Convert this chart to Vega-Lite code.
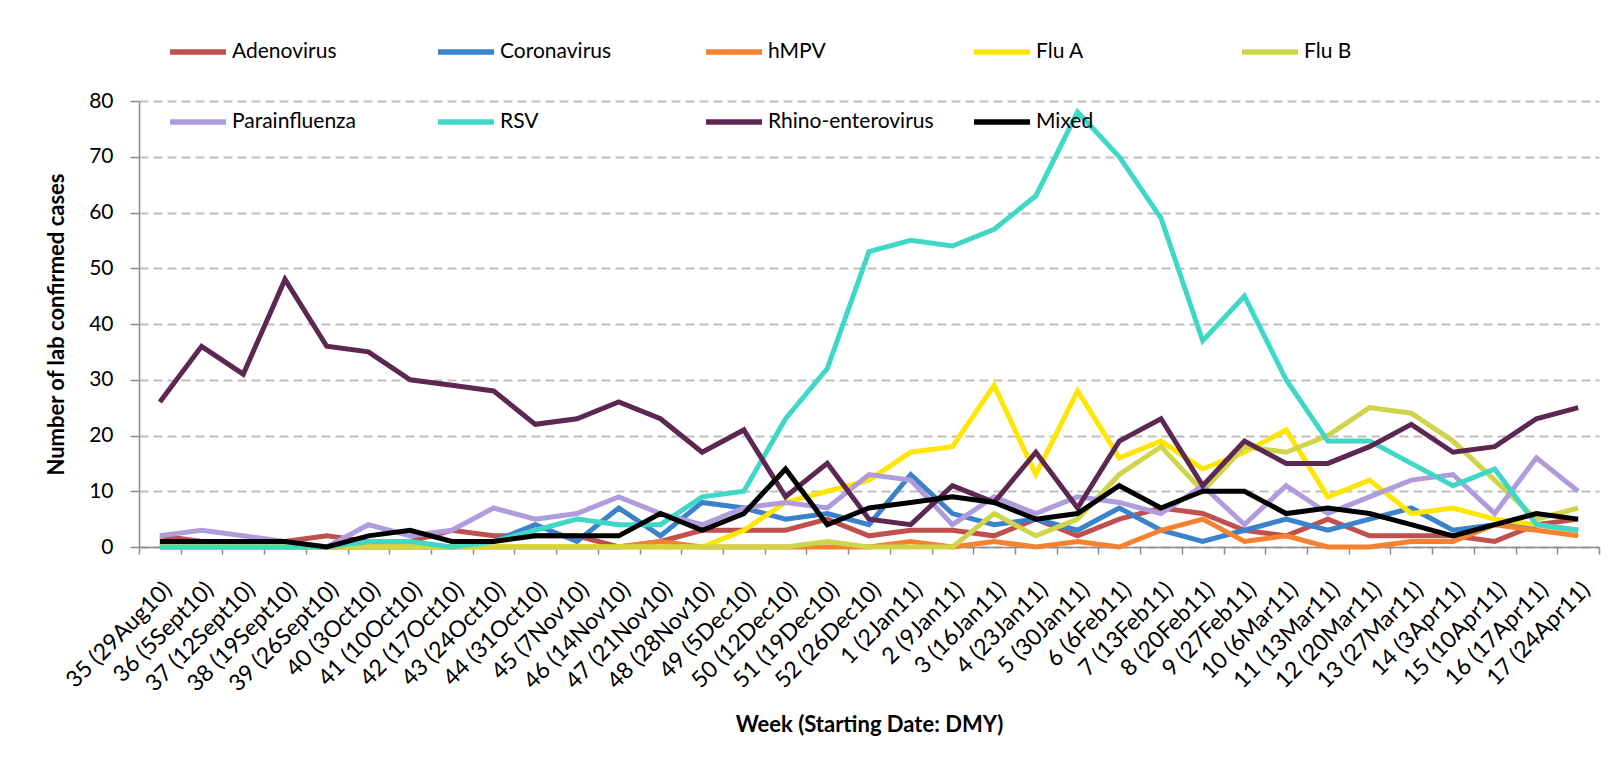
{
  "$schema": "https://vega.github.io/schema/vega-lite/v6.json",
  "width": 1460,
  "height": 446,
  "autosize": {"type": "none"},
  "padding": {"left": 139, "top": 101, "right": 13, "bottom": 221},
  "background": "white",
  "config": {
    "font": "Lato",
    "view": {"stroke": null},
    "axis": {"labelColor": "#000000", "titleColor": "#000000", "domainColor": "#8C8C8C", "tickColor": "#8C8C8C", "domainWidth": 1.5, "tickWidth": 1.5}
  },
  "data": {"values": [
{"week":"35 (29Aug10)","virus":"Adenovirus","cases":2},{"week":"36 (5Sept10)","virus":"Adenovirus","cases":1},{"week":"37 (12Sept10)","virus":"Adenovirus","cases":1},{"week":"38 (19Sept10)","virus":"Adenovirus","cases":1},{"week":"39 (26Sept10)","virus":"Adenovirus","cases":2},{"week":"40 (3Oct10)","virus":"Adenovirus","cases":1},{"week":"41 (10Oct10)","virus":"Adenovirus","cases":1},{"week":"42 (17Oct10)","virus":"Adenovirus","cases":3},{"week":"43 (24Oct10)","virus":"Adenovirus","cases":2},{"week":"44 (31Oct10)","virus":"Adenovirus","cases":2},{"week":"45 (7Nov10)","virus":"Adenovirus","cases":2},{"week":"46 (14Nov10)","virus":"Adenovirus","cases":0},{"week":"47 (21Nov10)","virus":"Adenovirus","cases":1},{"week":"48 (28Nov10)","virus":"Adenovirus","cases":3},{"week":"49 (5Dec10)","virus":"Adenovirus","cases":3},{"week":"50 (12Dec10)","virus":"Adenovirus","cases":3},{"week":"51 (19Dec10)","virus":"Adenovirus","cases":5},{"week":"52 (26Dec10)","virus":"Adenovirus","cases":2},{"week":"1 (2Jan11)","virus":"Adenovirus","cases":3},{"week":"2 (9Jan11)","virus":"Adenovirus","cases":3},{"week":"3 (16Jan11)","virus":"Adenovirus","cases":2},{"week":"4 (23Jan11)","virus":"Adenovirus","cases":5},{"week":"5 (30Jan11)","virus":"Adenovirus","cases":2},{"week":"6 (6Feb11)","virus":"Adenovirus","cases":5},{"week":"7 (13Feb11)","virus":"Adenovirus","cases":7},{"week":"8 (20Feb11)","virus":"Adenovirus","cases":6},{"week":"9 (27Feb11)","virus":"Adenovirus","cases":3},{"week":"10 (6Mar11)","virus":"Adenovirus","cases":2},{"week":"11 (13Mar11)","virus":"Adenovirus","cases":5},{"week":"12 (20Mar11)","virus":"Adenovirus","cases":2},{"week":"13 (27Mar11)","virus":"Adenovirus","cases":2},{"week":"14 (3Apr11)","virus":"Adenovirus","cases":2},{"week":"15 (10Apr11)","virus":"Adenovirus","cases":1},{"week":"16 (17Apr11)","virus":"Adenovirus","cases":4},{"week":"17 (24Apr11)","virus":"Adenovirus","cases":5},
{"week":"35 (29Aug10)","virus":"Coronavirus","cases":0},{"week":"36 (5Sept10)","virus":"Coronavirus","cases":0},{"week":"37 (12Sept10)","virus":"Coronavirus","cases":0},{"week":"38 (19Sept10)","virus":"Coronavirus","cases":0},{"week":"39 (26Sept10)","virus":"Coronavirus","cases":0},{"week":"40 (3Oct10)","virus":"Coronavirus","cases":0},{"week":"41 (10Oct10)","virus":"Coronavirus","cases":0},{"week":"42 (17Oct10)","virus":"Coronavirus","cases":0},{"week":"43 (24Oct10)","virus":"Coronavirus","cases":1},{"week":"44 (31Oct10)","virus":"Coronavirus","cases":4},{"week":"45 (7Nov10)","virus":"Coronavirus","cases":1},{"week":"46 (14Nov10)","virus":"Coronavirus","cases":7},{"week":"47 (21Nov10)","virus":"Coronavirus","cases":2},{"week":"48 (28Nov10)","virus":"Coronavirus","cases":8},{"week":"49 (5Dec10)","virus":"Coronavirus","cases":7},{"week":"50 (12Dec10)","virus":"Coronavirus","cases":5},{"week":"51 (19Dec10)","virus":"Coronavirus","cases":6},{"week":"52 (26Dec10)","virus":"Coronavirus","cases":4},{"week":"1 (2Jan11)","virus":"Coronavirus","cases":13},{"week":"2 (9Jan11)","virus":"Coronavirus","cases":6},{"week":"3 (16Jan11)","virus":"Coronavirus","cases":4},{"week":"4 (23Jan11)","virus":"Coronavirus","cases":5},{"week":"5 (30Jan11)","virus":"Coronavirus","cases":3},{"week":"6 (6Feb11)","virus":"Coronavirus","cases":7},{"week":"7 (13Feb11)","virus":"Coronavirus","cases":3},{"week":"8 (20Feb11)","virus":"Coronavirus","cases":1},{"week":"9 (27Feb11)","virus":"Coronavirus","cases":3},{"week":"10 (6Mar11)","virus":"Coronavirus","cases":5},{"week":"11 (13Mar11)","virus":"Coronavirus","cases":3},{"week":"12 (20Mar11)","virus":"Coronavirus","cases":5},{"week":"13 (27Mar11)","virus":"Coronavirus","cases":7},{"week":"14 (3Apr11)","virus":"Coronavirus","cases":3},{"week":"15 (10Apr11)","virus":"Coronavirus","cases":4},{"week":"16 (17Apr11)","virus":"Coronavirus","cases":4},{"week":"17 (24Apr11)","virus":"Coronavirus","cases":3},
{"week":"35 (29Aug10)","virus":"hMPV","cases":0},{"week":"36 (5Sept10)","virus":"hMPV","cases":0},{"week":"37 (12Sept10)","virus":"hMPV","cases":0},{"week":"38 (19Sept10)","virus":"hMPV","cases":0},{"week":"39 (26Sept10)","virus":"hMPV","cases":0},{"week":"40 (3Oct10)","virus":"hMPV","cases":0},{"week":"41 (10Oct10)","virus":"hMPV","cases":0},{"week":"42 (17Oct10)","virus":"hMPV","cases":0},{"week":"43 (24Oct10)","virus":"hMPV","cases":0},{"week":"44 (31Oct10)","virus":"hMPV","cases":0},{"week":"45 (7Nov10)","virus":"hMPV","cases":0},{"week":"46 (14Nov10)","virus":"hMPV","cases":0},{"week":"47 (21Nov10)","virus":"hMPV","cases":1},{"week":"48 (28Nov10)","virus":"hMPV","cases":0},{"week":"49 (5Dec10)","virus":"hMPV","cases":0},{"week":"50 (12Dec10)","virus":"hMPV","cases":0},{"week":"51 (19Dec10)","virus":"hMPV","cases":0},{"week":"52 (26Dec10)","virus":"hMPV","cases":0},{"week":"1 (2Jan11)","virus":"hMPV","cases":1},{"week":"2 (9Jan11)","virus":"hMPV","cases":0},{"week":"3 (16Jan11)","virus":"hMPV","cases":1},{"week":"4 (23Jan11)","virus":"hMPV","cases":0},{"week":"5 (30Jan11)","virus":"hMPV","cases":1},{"week":"6 (6Feb11)","virus":"hMPV","cases":0},{"week":"7 (13Feb11)","virus":"hMPV","cases":3},{"week":"8 (20Feb11)","virus":"hMPV","cases":5},{"week":"9 (27Feb11)","virus":"hMPV","cases":1},{"week":"10 (6Mar11)","virus":"hMPV","cases":2},{"week":"11 (13Mar11)","virus":"hMPV","cases":0},{"week":"12 (20Mar11)","virus":"hMPV","cases":0},{"week":"13 (27Mar11)","virus":"hMPV","cases":1},{"week":"14 (3Apr11)","virus":"hMPV","cases":1},{"week":"15 (10Apr11)","virus":"hMPV","cases":4},{"week":"16 (17Apr11)","virus":"hMPV","cases":3},{"week":"17 (24Apr11)","virus":"hMPV","cases":2},
{"week":"35 (29Aug10)","virus":"Flu A","cases":0},{"week":"36 (5Sept10)","virus":"Flu A","cases":0},{"week":"37 (12Sept10)","virus":"Flu A","cases":0},{"week":"38 (19Sept10)","virus":"Flu A","cases":0},{"week":"39 (26Sept10)","virus":"Flu A","cases":0},{"week":"40 (3Oct10)","virus":"Flu A","cases":0},{"week":"41 (10Oct10)","virus":"Flu A","cases":0},{"week":"42 (17Oct10)","virus":"Flu A","cases":0},{"week":"43 (24Oct10)","virus":"Flu A","cases":0},{"week":"44 (31Oct10)","virus":"Flu A","cases":0},{"week":"45 (7Nov10)","virus":"Flu A","cases":0},{"week":"46 (14Nov10)","virus":"Flu A","cases":0},{"week":"47 (21Nov10)","virus":"Flu A","cases":0},{"week":"48 (28Nov10)","virus":"Flu A","cases":0},{"week":"49 (5Dec10)","virus":"Flu A","cases":3},{"week":"50 (12Dec10)","virus":"Flu A","cases":8},{"week":"51 (19Dec10)","virus":"Flu A","cases":10},{"week":"52 (26Dec10)","virus":"Flu A","cases":12},{"week":"1 (2Jan11)","virus":"Flu A","cases":17},{"week":"2 (9Jan11)","virus":"Flu A","cases":18},{"week":"3 (16Jan11)","virus":"Flu A","cases":29},{"week":"4 (23Jan11)","virus":"Flu A","cases":13},{"week":"5 (30Jan11)","virus":"Flu A","cases":28},{"week":"6 (6Feb11)","virus":"Flu A","cases":16},{"week":"7 (13Feb11)","virus":"Flu A","cases":19},{"week":"8 (20Feb11)","virus":"Flu A","cases":14},{"week":"9 (27Feb11)","virus":"Flu A","cases":17},{"week":"10 (6Mar11)","virus":"Flu A","cases":21},{"week":"11 (13Mar11)","virus":"Flu A","cases":9},{"week":"12 (20Mar11)","virus":"Flu A","cases":12},{"week":"13 (27Mar11)","virus":"Flu A","cases":6},{"week":"14 (3Apr11)","virus":"Flu A","cases":7},{"week":"15 (10Apr11)","virus":"Flu A","cases":5},{"week":"16 (17Apr11)","virus":"Flu A","cases":4},{"week":"17 (24Apr11)","virus":"Flu A","cases":3},
{"week":"35 (29Aug10)","virus":"Flu B","cases":0},{"week":"36 (5Sept10)","virus":"Flu B","cases":0},{"week":"37 (12Sept10)","virus":"Flu B","cases":0},{"week":"38 (19Sept10)","virus":"Flu B","cases":0},{"week":"39 (26Sept10)","virus":"Flu B","cases":0},{"week":"40 (3Oct10)","virus":"Flu B","cases":0},{"week":"41 (10Oct10)","virus":"Flu B","cases":0},{"week":"42 (17Oct10)","virus":"Flu B","cases":0},{"week":"43 (24Oct10)","virus":"Flu B","cases":0},{"week":"44 (31Oct10)","virus":"Flu B","cases":0},{"week":"45 (7Nov10)","virus":"Flu B","cases":0},{"week":"46 (14Nov10)","virus":"Flu B","cases":0},{"week":"47 (21Nov10)","virus":"Flu B","cases":0},{"week":"48 (28Nov10)","virus":"Flu B","cases":0},{"week":"49 (5Dec10)","virus":"Flu B","cases":0},{"week":"50 (12Dec10)","virus":"Flu B","cases":0},{"week":"51 (19Dec10)","virus":"Flu B","cases":1},{"week":"52 (26Dec10)","virus":"Flu B","cases":0},{"week":"1 (2Jan11)","virus":"Flu B","cases":0},{"week":"2 (9Jan11)","virus":"Flu B","cases":0},{"week":"3 (16Jan11)","virus":"Flu B","cases":6},{"week":"4 (23Jan11)","virus":"Flu B","cases":2},{"week":"5 (30Jan11)","virus":"Flu B","cases":5},{"week":"6 (6Feb11)","virus":"Flu B","cases":13},{"week":"7 (13Feb11)","virus":"Flu B","cases":18},{"week":"8 (20Feb11)","virus":"Flu B","cases":10},{"week":"9 (27Feb11)","virus":"Flu B","cases":18},{"week":"10 (6Mar11)","virus":"Flu B","cases":17},{"week":"11 (13Mar11)","virus":"Flu B","cases":20},{"week":"12 (20Mar11)","virus":"Flu B","cases":25},{"week":"13 (27Mar11)","virus":"Flu B","cases":24},{"week":"14 (3Apr11)","virus":"Flu B","cases":19},{"week":"15 (10Apr11)","virus":"Flu B","cases":12},{"week":"16 (17Apr11)","virus":"Flu B","cases":5},{"week":"17 (24Apr11)","virus":"Flu B","cases":7},
{"week":"35 (29Aug10)","virus":"Parainfluenza","cases":2},{"week":"36 (5Sept10)","virus":"Parainfluenza","cases":3},{"week":"37 (12Sept10)","virus":"Parainfluenza","cases":2},{"week":"38 (19Sept10)","virus":"Parainfluenza","cases":1},{"week":"39 (26Sept10)","virus":"Parainfluenza","cases":0},{"week":"40 (3Oct10)","virus":"Parainfluenza","cases":4},{"week":"41 (10Oct10)","virus":"Parainfluenza","cases":2},{"week":"42 (17Oct10)","virus":"Parainfluenza","cases":3},{"week":"43 (24Oct10)","virus":"Parainfluenza","cases":7},{"week":"44 (31Oct10)","virus":"Parainfluenza","cases":5},{"week":"45 (7Nov10)","virus":"Parainfluenza","cases":6},{"week":"46 (14Nov10)","virus":"Parainfluenza","cases":9},{"week":"47 (21Nov10)","virus":"Parainfluenza","cases":6},{"week":"48 (28Nov10)","virus":"Parainfluenza","cases":4},{"week":"49 (5Dec10)","virus":"Parainfluenza","cases":7},{"week":"50 (12Dec10)","virus":"Parainfluenza","cases":8},{"week":"51 (19Dec10)","virus":"Parainfluenza","cases":7},{"week":"52 (26Dec10)","virus":"Parainfluenza","cases":13},{"week":"1 (2Jan11)","virus":"Parainfluenza","cases":12},{"week":"2 (9Jan11)","virus":"Parainfluenza","cases":4},{"week":"3 (16Jan11)","virus":"Parainfluenza","cases":9},{"week":"4 (23Jan11)","virus":"Parainfluenza","cases":6},{"week":"5 (30Jan11)","virus":"Parainfluenza","cases":9},{"week":"6 (6Feb11)","virus":"Parainfluenza","cases":8},{"week":"7 (13Feb11)","virus":"Parainfluenza","cases":6},{"week":"8 (20Feb11)","virus":"Parainfluenza","cases":11},{"week":"9 (27Feb11)","virus":"Parainfluenza","cases":4},{"week":"10 (6Mar11)","virus":"Parainfluenza","cases":11},{"week":"11 (13Mar11)","virus":"Parainfluenza","cases":6},{"week":"12 (20Mar11)","virus":"Parainfluenza","cases":9},{"week":"13 (27Mar11)","virus":"Parainfluenza","cases":12},{"week":"14 (3Apr11)","virus":"Parainfluenza","cases":13},{"week":"15 (10Apr11)","virus":"Parainfluenza","cases":6},{"week":"16 (17Apr11)","virus":"Parainfluenza","cases":16},{"week":"17 (24Apr11)","virus":"Parainfluenza","cases":10},
{"week":"35 (29Aug10)","virus":"RSV","cases":0},{"week":"36 (5Sept10)","virus":"RSV","cases":0},{"week":"37 (12Sept10)","virus":"RSV","cases":0},{"week":"38 (19Sept10)","virus":"RSV","cases":0},{"week":"39 (26Sept10)","virus":"RSV","cases":0},{"week":"40 (3Oct10)","virus":"RSV","cases":1},{"week":"41 (10Oct10)","virus":"RSV","cases":1},{"week":"42 (17Oct10)","virus":"RSV","cases":0},{"week":"43 (24Oct10)","virus":"RSV","cases":1},{"week":"44 (31Oct10)","virus":"RSV","cases":3},{"week":"45 (7Nov10)","virus":"RSV","cases":5},{"week":"46 (14Nov10)","virus":"RSV","cases":4},{"week":"47 (21Nov10)","virus":"RSV","cases":4},{"week":"48 (28Nov10)","virus":"RSV","cases":9},{"week":"49 (5Dec10)","virus":"RSV","cases":10},{"week":"50 (12Dec10)","virus":"RSV","cases":23},{"week":"51 (19Dec10)","virus":"RSV","cases":32},{"week":"52 (26Dec10)","virus":"RSV","cases":53},{"week":"1 (2Jan11)","virus":"RSV","cases":55},{"week":"2 (9Jan11)","virus":"RSV","cases":54},{"week":"3 (16Jan11)","virus":"RSV","cases":57},{"week":"4 (23Jan11)","virus":"RSV","cases":63},{"week":"5 (30Jan11)","virus":"RSV","cases":78},{"week":"6 (6Feb11)","virus":"RSV","cases":70},{"week":"7 (13Feb11)","virus":"RSV","cases":59},{"week":"8 (20Feb11)","virus":"RSV","cases":37},{"week":"9 (27Feb11)","virus":"RSV","cases":45},{"week":"10 (6Mar11)","virus":"RSV","cases":30},{"week":"11 (13Mar11)","virus":"RSV","cases":19},{"week":"12 (20Mar11)","virus":"RSV","cases":19},{"week":"13 (27Mar11)","virus":"RSV","cases":15},{"week":"14 (3Apr11)","virus":"RSV","cases":11},{"week":"15 (10Apr11)","virus":"RSV","cases":14},{"week":"16 (17Apr11)","virus":"RSV","cases":4},{"week":"17 (24Apr11)","virus":"RSV","cases":3},
{"week":"35 (29Aug10)","virus":"Rhino-enterovirus","cases":26},{"week":"36 (5Sept10)","virus":"Rhino-enterovirus","cases":36},{"week":"37 (12Sept10)","virus":"Rhino-enterovirus","cases":31},{"week":"38 (19Sept10)","virus":"Rhino-enterovirus","cases":48},{"week":"39 (26Sept10)","virus":"Rhino-enterovirus","cases":36},{"week":"40 (3Oct10)","virus":"Rhino-enterovirus","cases":35},{"week":"41 (10Oct10)","virus":"Rhino-enterovirus","cases":30},{"week":"42 (17Oct10)","virus":"Rhino-enterovirus","cases":29},{"week":"43 (24Oct10)","virus":"Rhino-enterovirus","cases":28},{"week":"44 (31Oct10)","virus":"Rhino-enterovirus","cases":22},{"week":"45 (7Nov10)","virus":"Rhino-enterovirus","cases":23},{"week":"46 (14Nov10)","virus":"Rhino-enterovirus","cases":26},{"week":"47 (21Nov10)","virus":"Rhino-enterovirus","cases":23},{"week":"48 (28Nov10)","virus":"Rhino-enterovirus","cases":17},{"week":"49 (5Dec10)","virus":"Rhino-enterovirus","cases":21},{"week":"50 (12Dec10)","virus":"Rhino-enterovirus","cases":9},{"week":"51 (19Dec10)","virus":"Rhino-enterovirus","cases":15},{"week":"52 (26Dec10)","virus":"Rhino-enterovirus","cases":5},{"week":"1 (2Jan11)","virus":"Rhino-enterovirus","cases":4},{"week":"2 (9Jan11)","virus":"Rhino-enterovirus","cases":11},{"week":"3 (16Jan11)","virus":"Rhino-enterovirus","cases":8},{"week":"4 (23Jan11)","virus":"Rhino-enterovirus","cases":17},{"week":"5 (30Jan11)","virus":"Rhino-enterovirus","cases":7},{"week":"6 (6Feb11)","virus":"Rhino-enterovirus","cases":19},{"week":"7 (13Feb11)","virus":"Rhino-enterovirus","cases":23},{"week":"8 (20Feb11)","virus":"Rhino-enterovirus","cases":11},{"week":"9 (27Feb11)","virus":"Rhino-enterovirus","cases":19},{"week":"10 (6Mar11)","virus":"Rhino-enterovirus","cases":15},{"week":"11 (13Mar11)","virus":"Rhino-enterovirus","cases":15},{"week":"12 (20Mar11)","virus":"Rhino-enterovirus","cases":18},{"week":"13 (27Mar11)","virus":"Rhino-enterovirus","cases":22},{"week":"14 (3Apr11)","virus":"Rhino-enterovirus","cases":17},{"week":"15 (10Apr11)","virus":"Rhino-enterovirus","cases":18},{"week":"16 (17Apr11)","virus":"Rhino-enterovirus","cases":23},{"week":"17 (24Apr11)","virus":"Rhino-enterovirus","cases":25},
{"week":"35 (29Aug10)","virus":"Mixed","cases":1},{"week":"36 (5Sept10)","virus":"Mixed","cases":1},{"week":"37 (12Sept10)","virus":"Mixed","cases":1},{"week":"38 (19Sept10)","virus":"Mixed","cases":1},{"week":"39 (26Sept10)","virus":"Mixed","cases":0},{"week":"40 (3Oct10)","virus":"Mixed","cases":2},{"week":"41 (10Oct10)","virus":"Mixed","cases":3},{"week":"42 (17Oct10)","virus":"Mixed","cases":1},{"week":"43 (24Oct10)","virus":"Mixed","cases":1},{"week":"44 (31Oct10)","virus":"Mixed","cases":2},{"week":"45 (7Nov10)","virus":"Mixed","cases":2},{"week":"46 (14Nov10)","virus":"Mixed","cases":2},{"week":"47 (21Nov10)","virus":"Mixed","cases":6},{"week":"48 (28Nov10)","virus":"Mixed","cases":3},{"week":"49 (5Dec10)","virus":"Mixed","cases":6},{"week":"50 (12Dec10)","virus":"Mixed","cases":14},{"week":"51 (19Dec10)","virus":"Mixed","cases":4},{"week":"52 (26Dec10)","virus":"Mixed","cases":7},{"week":"1 (2Jan11)","virus":"Mixed","cases":8},{"week":"2 (9Jan11)","virus":"Mixed","cases":9},{"week":"3 (16Jan11)","virus":"Mixed","cases":8},{"week":"4 (23Jan11)","virus":"Mixed","cases":5},{"week":"5 (30Jan11)","virus":"Mixed","cases":6},{"week":"6 (6Feb11)","virus":"Mixed","cases":11},{"week":"7 (13Feb11)","virus":"Mixed","cases":7},{"week":"8 (20Feb11)","virus":"Mixed","cases":10},{"week":"9 (27Feb11)","virus":"Mixed","cases":10},{"week":"10 (6Mar11)","virus":"Mixed","cases":6},{"week":"11 (13Mar11)","virus":"Mixed","cases":7},{"week":"12 (20Mar11)","virus":"Mixed","cases":6},{"week":"13 (27Mar11)","virus":"Mixed","cases":4},{"week":"14 (3Apr11)","virus":"Mixed","cases":2},{"week":"15 (10Apr11)","virus":"Mixed","cases":4},{"week":"16 (17Apr11)","virus":"Mixed","cases":6},{"week":"17 (24Apr11)","virus":"Mixed","cases":5}
  ]},
  "mark": {"type": "line", "strokeWidth": 5, "strokeJoin": "miter", "strokeCap": "butt"},
  "encoding": {
    "x": {
      "field": "week", "type": "nominal", "sort": null, "bandPosition": 0.5,
      "scale": {"type": "band", "paddingInner": 0, "paddingOuter": 0},
      "axis": {
        "title": "Week (Starting Date: DMY)", "titleFontSize": 22, "titleFontWeight": "bold", "titlePadding": 19,
        "labelAngle": -45, "labelFontSize": 23, "labelPadding": 24, "labelLimit": 300,
        "tickBand": "extent", "tickSize": 7, "grid": false
      }
    },
    "y": {
      "field": "cases", "type": "quantitative",
      "scale": {"domain": [0, 80], "nice": false},
      "axis": {
        "title": "Number of lab confirmed cases", "titleFontSize": 22, "titleFontWeight": "bold", "titlePadding": 20,
        "values": [0, 10, 20, 30, 40, 50, 60, 70, 80], "labelFontSize": 21, "labelPadding": 17, "tickSize": 9,
        "grid": true, "gridColor": "#BEBEBE", "gridDash": [9, 5], "gridWidth": 2
      }
    },
    "color": {
      "field": "virus", "type": "nominal", "sort": null,
      "scale": {
        "domain": ["Adenovirus", "Coronavirus", "hMPV", "Flu A", "Flu B", "Parainfluenza", "RSV", "Rhino-enterovirus", "Mixed"],
        "range": ["#C0504D", "#3A82CA", "#F58230", "#FFE600", "#CFD44B", "#B09CDD", "#3FD8C7", "#5C2750", "#000000"]
      },
      "legend": {
        "title": null, "orient": "none", "legendX": 28, "legendY": -80, "direction": "horizontal", "columns": 5,
        "gridAlign": "all", "columnPadding": 29, "rowPadding": 28, "padding": 0,
        "symbolType": "stroke", "symbolSize": 3136, "symbolStrokeWidth": 5.5,
        "labelFontSize": 21, "labelOffset": 3, "labelLimit": 400, "labelColor": "#000000"
      }
    }
  }
}
